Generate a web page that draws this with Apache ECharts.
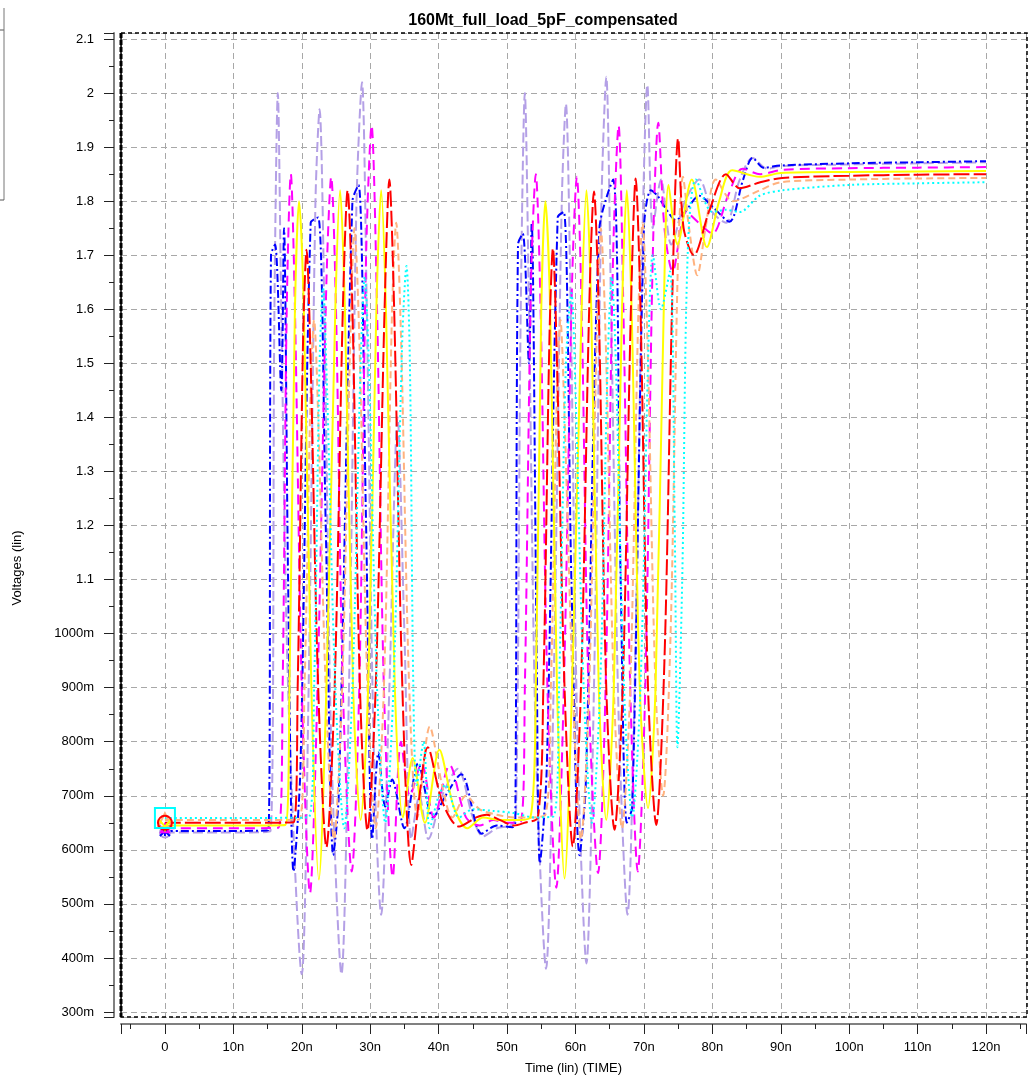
<!DOCTYPE html>
<html>
<head>
<meta charset="utf-8">
<title>160Mt_full_load_5pF_compensated</title>
<script src="https://cdn.jsdelivr.net/npm/echarts@6/dist/echarts.min.js"></script>
<style>
  html, body { margin: 0; padding: 0; background: #fff; }
  #chart { width: 1029px; height: 1080px; }
</style>
</head>
<body>
<div id="chart"></div>
<script>
// waveforms, [time (ns), voltage (V)]
const blueDashDot = [[0,0.635],[8,0.635],[15.1,0.636],[15.5,1.70],[16.1,1.72],[17.0,1.45],[17.4,1.75],[18.0,1.1],[18.8,0.56],[19.8,0.75],[21.3,1.76],[22.4,1.77],[23.5,1.2],[24.6,0.59],[25.4,0.7],[27.4,1.80],[28.3,1.83],[29.4,1.2],[30.3,0.62],[31.2,0.78],[32.2,0.68],[33.2,0.73],[35.0,0.64],[37.0,0.76],[39.2,0.66],[41.0,0.70],[43.3,0.74],[46.3,0.63],[48.5,0.645],[50.8,0.642],[51.2,0.65],[51.6,1.72],[52.3,1.74],[53.2,1.5],[53.6,1.76],[54.3,1.0],[54.8,0.575],[55.8,0.75],[57.4,1.77],[58.3,1.78],[59.4,1.1],[60.6,0.59],[61.5,0.72],[63.5,1.75],[65.5,1.84],[66.6,1.1],[67.5,0.65],[68.3,0.68],[70.0,1.75],[71.0,1.82],[72.0,1.81],[73.0,1.79],[74.7,1.765],[76.0,1.78],[78.1,1.81],[80.0,1.79],[82.5,1.762],[84.5,1.84],[85.9,1.88],[87.5,1.862],[90,1.866],[100,1.87],[110,1.872],[120,1.874]];
const lavenderDash = [[0,0.632],[8,0.632],[15.4,0.634],[16.0,1.6],[16.5,2.0],[17.0,1.6],[18.0,0.9],[20.0,0.37],[21.0,0.9],[22.0,1.8],[22.6,1.97],[23.3,1.6],[24.3,0.8],[25.8,0.37],[26.9,0.9],[28.0,1.8],[28.8,2.02],[29.5,1.6],[30.5,0.8],[31.6,0.48],[32.8,0.9],[34.0,1.4],[35.0,1.0],[36.0,0.62],[37.2,0.70],[38.5,0.62],[40.5,0.70],[42.8,0.75],[45.0,0.66],[46.5,0.625],[48.5,0.64],[50.5,0.645],[51.3,0.66],[52.0,1.6],[52.6,2.0],[53.2,1.6],[54.2,0.8],[55.7,0.38],[56.8,0.9],[58.0,1.8],[58.6,1.98],[59.3,1.6],[60.3,0.8],[61.6,0.39],[62.7,0.9],[63.8,1.8],[64.5,2.03],[65.2,1.6],[66.3,0.85],[67.6,0.48],[68.8,1.0],[69.9,1.8],[70.5,2.015],[71.3,1.75],[72.5,1.84],[74.0,1.72],[76.0,1.80],[78.1,1.84],[80.0,1.78],[82.0,1.76],[84.0,1.84],[85.9,1.88],[88,1.86],[90,1.865],[100,1.868],[110,1.87],[120,1.872]];
const magentaDash = [[0,0.64],[8,0.64],[16.6,0.641],[17.2,0.9],[17.8,1.6],[18.4,1.85],[19.0,1.6],[20.0,0.9],[21.2,0.52],[22.3,0.9],[23.6,1.65],[24.3,1.845],[25.0,1.6],[26.0,0.9],[27.3,0.56],[28.4,0.9],[29.4,1.7],[30.2,1.94],[31.0,1.6],[32.0,0.9],[33.3,0.55],[34.5,0.8],[35.8,0.70],[37.5,0.76],[39.3,0.66],[41.6,0.757],[44.0,0.66],[46.0,0.645],[48.0,0.655],[50.0,0.65],[52.0,0.652],[52.6,0.9],[53.5,1.65],[54.2,1.85],[54.9,1.6],[55.9,0.9],[57.2,0.53],[58.3,0.9],[59.5,1.65],[60.2,1.845],[60.9,1.6],[61.9,0.9],[63.3,0.557],[64.4,0.9],[65.5,1.7],[66.3,1.94],[67.0,1.6],[68.0,0.9],[69.1,0.56],[70.2,0.9],[71.3,1.7],[72.1,1.945],[73.0,1.75],[74.2,1.67],[76.2,1.78],[78.0,1.76],[80.0,1.74],[82.3,1.81],[84.4,1.86],[87.0,1.85],[90.2,1.858],[100,1.861],[110,1.862],[120,1.863]];
const yellowSolid = [[0,0.645],[8,0.645],[17.6,0.646],[18.2,0.9],[19.0,1.6],[19.6,1.80],[20.3,1.6],[21.4,0.9],[22.5,0.545],[23.6,0.9],[24.9,1.6],[25.6,1.82],[26.3,1.6],[27.5,0.9],[28.6,0.655],[29.7,0.9],[30.9,1.6],[31.6,1.82],[32.3,1.6],[33.6,0.9],[34.8,0.66],[36.2,0.77],[38.0,0.65],[40.1,0.785],[42.2,0.68],[44.2,0.64],[46.5,0.66],[49.0,0.655],[51.0,0.655],[53.4,0.66],[54.2,0.9],[55.0,1.6],[55.6,1.80],[56.3,1.6],[57.3,0.9],[58.4,0.547],[59.5,0.9],[60.9,1.6],[61.6,1.82],[62.3,1.6],[63.4,0.9],[64.5,0.655],[65.6,0.9],[66.8,1.6],[67.5,1.82],[68.2,1.6],[69.4,0.9],[70.6,0.677],[71.7,0.9],[72.9,1.6],[73.6,1.83],[74.9,1.72],[77.0,1.84],[79.2,1.715],[81.0,1.80],[82.9,1.857],[86.9,1.845],[90,1.852],[100,1.854],[110,1.855],[120,1.856]];
const redLongDash = [[0,0.65],[8,0.65],[18.8,0.651],[19.4,0.9],[20.2,1.55],[20.7,1.71],[21.3,1.5],[22.4,0.9],[23.6,0.605],[24.8,0.9],[26.0,1.6],[26.7,1.82],[27.4,1.6],[28.5,0.9],[29.6,0.636],[30.8,0.9],[32.1,1.6],[32.8,1.84],[33.5,1.6],[34.7,0.9],[36.0,0.572],[37.2,0.70],[38.4,0.79],[40.5,0.69],[43.0,0.643],[45.5,0.66],[47.0,0.665],[49.0,0.655],[51.0,0.645],[52.5,0.65],[54.5,0.66],[55.3,0.9],[56.2,1.55],[56.7,1.713],[57.3,1.5],[58.4,0.9],[59.6,0.606],[60.8,0.9],[62.0,1.6],[62.7,1.818],[63.4,1.6],[64.5,0.9],[65.7,0.637],[66.9,0.9],[68.1,1.6],[68.8,1.842],[69.5,1.6],[70.6,0.9],[71.8,0.646],[73.0,0.95],[74.2,1.65],[75.0,1.916],[75.8,1.75],[77.3,1.70],[79.5,1.78],[82.0,1.85],[84.0,1.824],[87,1.835],[90.2,1.843],[100,1.847],[110,1.849],[120,1.85]];
const peachDash = [[0,0.655],[8,0.655],[19.6,0.656],[20.4,0.9],[21.3,1.45],[21.8,1.58],[22.4,1.4],[23.5,0.9],[24.7,0.62],[25.9,0.9],[27.1,1.55],[27.7,1.75],[28.4,1.55],[29.6,0.9],[30.8,0.64],[32.0,0.9],[33.2,1.6],[33.8,1.76],[34.5,1.55],[35.7,0.9],[36.9,0.66],[38.7,0.828],[40.5,0.72],[42.0,0.66],[44.0,0.70],[46.0,0.675],[48.5,0.665],[51.0,0.66],[53.0,0.66],[55.6,0.665],[56.4,0.9],[57.3,1.45],[57.8,1.58],[58.4,1.4],[59.6,0.9],[60.8,0.62],[62.0,0.9],[63.1,1.55],[63.7,1.75],[64.4,1.55],[65.6,0.9],[66.8,0.64],[68.0,0.9],[69.2,1.6],[69.8,1.76],[70.5,1.55],[71.7,0.9],[72.8,0.70],[73.9,1.0],[75.0,1.7],[75.7,1.845],[76.6,1.75],[77.8,1.663],[79.0,1.75],[80.5,1.84],[83.0,1.80],[86.9,1.82],[90,1.835],[100,1.84],[110,1.842],[120,1.843]];
const cyanDot = [[0,0.659],[8,0.659],[21.0,0.66],[21.8,0.9],[22.6,1.5],[23.1,1.64],[23.7,1.45],[24.9,0.9],[26.2,0.64],[27.4,0.9],[28.6,1.5],[29.2,1.66],[29.8,1.5],[31.0,0.9],[32.2,0.65],[33.4,0.9],[34.7,1.55],[35.3,1.68],[35.8,1.5],[36.3,0.9],[36.8,0.72],[37.8,0.80],[38.7,0.64],[40.0,0.70],[41.0,0.72],[43.0,0.66],[45.0,0.675],[48.0,0.672],[51.0,0.668],[54.0,0.66],[56.8,0.662],[57.6,0.9],[58.6,1.5],[59.4,1.63],[60.0,1.45],[61.2,0.9],[62.4,0.65],[63.6,0.9],[64.7,1.5],[65.3,1.66],[65.9,1.5],[67.1,0.9],[68.3,0.66],[69.5,0.9],[70.7,1.55],[71.3,1.70],[72.5,1.60],[73.8,1.67],[74.5,1.2],[74.9,0.79],[75.6,1.1],[76.4,1.704],[77.6,1.84],[80.0,1.78],[82.0,1.784],[84.0,1.78],[86.9,1.81],[90.2,1.82],[100,1.83],[110,1.833],[120,1.835]];

const xMin = -6.42, xMax = 125.84;
const yMin = 0.2908, yMax = 2.1111;

const FONT = '"Liberation Sans", Arial, sans-serif';

const chart = echarts.init(document.getElementById('chart'));

// one trace: dash pattern + marker drawn only on the first sample
const trace = (name, data, color, dash, marker, markerSize) => ({
  name,
  type: 'line',
  data,
  smooth: 0.3,
  showSymbol: true,
  showAllSymbol: true,
  symbol: (v, p) => (p.dataIndex === 0 ? marker : 'none'),
  symbolSize: markerSize,
  itemStyle: { color: 'rgba(0,0,0,0)', borderColor: color, borderWidth: 2 },
  lineStyle: { color, width: 2, type: dash },
  emphasis: { disabled: true },
  silent: true,
})

const isMultiple = (v, step) => Math.abs(v / step - Math.round(v / step)) < 1e-6

const option = {
  animation: false,
  backgroundColor: '#fff',
  title: {
    text: '160Mt_full_load_5pF_compensated',
    left: 538,
    top: 8,
    textAlign: 'center',
    textStyle: { fontFamily: FONT, fontSize: 16, fontWeight: 'bold', color: '#000' },
  },
  grid: { left: 121, top: 33, right: 2, bottom: 63 },
  xAxis: {
    type: 'value',
    min: xMin,
    max: xMax,
    splitNumber: 13,
    offset: 7,
    name: 'Time (lin) (TIME)',
    nameLocation: 'middle',
    nameGap: 38,
    nameTextStyle: { fontFamily: FONT, fontSize: 13, color: '#000' },
    axisLine: { show: true, onZero: false, lineStyle: { color: '#808080', width: 2 } },
    axisTick: { show: true, length: 10, lineStyle: { color: '#222' } },
    minorTick: { show: true, splitNumber: 2, length: 5, lineStyle: { color: '#222' } },
    splitLine: { show: true, lineStyle: { color: '#a8a8a8', type: [6, 4] } },
    axisLabel: {
      margin: 17,
      fontFamily: FONT,
      fontSize: 13,
      color: '#000',
      formatter: (v) => (isMultiple(v, 10) ? (Math.round(v) === 0 ? '0' : Math.round(v) + 'n') : ''),
    },
  },
  yAxis: {
    type: 'value',
    min: yMin,
    max: yMax,
    splitNumber: 18,
    offset: 7,
    axisLine: { show: true, onZero: false, lineStyle: { color: '#808080', width: 2 } },
    axisTick: { show: true, length: 10, lineStyle: { color: '#222' } },
    minorTick: { show: true, splitNumber: 2, length: 5, lineStyle: { color: '#222' } },
    splitLine: { show: true, lineStyle: { color: '#a8a8a8', type: [6, 4] } },
    axisLabel: {
      margin: 20,
      fontFamily: FONT,
      fontSize: 13,
      color: '#000',
      formatter: (v) => {
        if (!isMultiple(v, 0.1)) return ''
        if (v > 1.05) return String(+v.toFixed(1))
        return Math.round(v * 1000) + 'm'
      },
    },
  },
  graphic: [
    // dashed plot frame
    { type: 'rect', z: 100, silent: true, shape: { x: 121, y: 33, width: 906, height: 984 },
      style: { fill: 'none', stroke: '#000', lineWidth: 1.5, lineDash: [4, 3] } },
    { type: 'line', z: 100, silent: true, shape: { x1: 121, y1: 33, x2: 121, y2: 1017 },
      style: { stroke: '#000', lineWidth: 3, lineDash: [5, 2] } },
    // cut-off legend box at the left edge
    { type: 'polyline', silent: true, shape: { points: [[0, 30], [4, 30]] }, style: { stroke: '#555', lineWidth: 1, fill: 'none' } },
    { type: 'line', silent: true, shape: { x1: 4, y1: 8, x2: 4, y2: 200 }, style: { stroke: '#777', lineWidth: 1 } },
    { type: 'line', silent: true, shape: { x1: 0, y1: 200, x2: 4, y2: 200 }, style: { stroke: '#555', lineWidth: 1 } },
    {
      type: 'text', silent: true, x: 17, y: 568, rotation: Math.PI / 2,
      style: { text: 'Voltages (lin)', font: '13px ' + FONT, fill: '#000', align: 'center', verticalAlign: 'middle' },
    },
  ],
  series: [
    trace('v_lavender', lavenderDash, '#b4a0e6', [10, 4], 'circle', 10),
    trace('v_blue', blueDashDot, '#0000ff', [8, 3, 2, 3], 'path://M0,0L10,10M10,0L0,10M5,0L5,10', 10),
    trace('v_magenta', magentaDash, '#ff00ff', [10, 6], 'triangle', 8),
    trace('v_peach', peachDash, '#ffb27f', [7, 4], 'triangle', 14),
    trace('v_yellow', yellowSolid, '#ffff00', 'solid', 'path://M0,0L5,6L10,0M5,6L5,10', 12),
    trace('v_red', redLongDash, '#ff0000', [16, 4], 'circle', 14),
    trace('v_cyan', cyanDot, '#00ffff', [2, 3], 'rect', 20),
  ],
}

chart.setOption(option)
</script>
</body>
</html>
